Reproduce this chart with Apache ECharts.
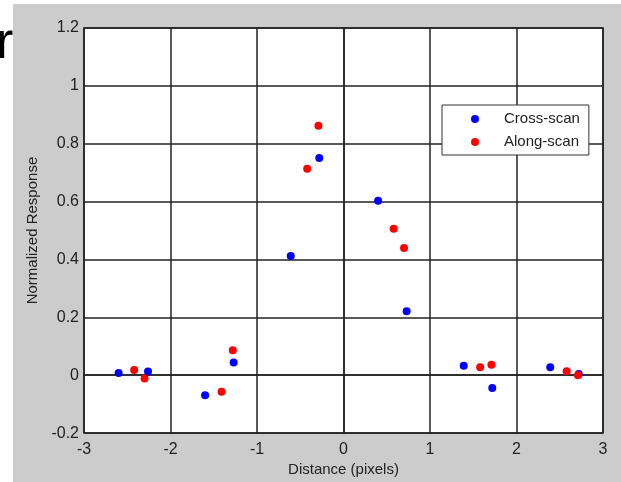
<!DOCTYPE html>
<html>
<head>
<meta charset="utf-8">
<script src="https://cdn.jsdelivr.net/npm/echarts@6/dist/echarts.min.js"></script>
<style>
    html, body { margin: 0; padding: 0; background: #fff; }
    #chart { width: 621px; height: 482px; }
</style>
</head>
<body>
<div id="chart"></div>
<script>
// values
const crossX = [-2.60, -2.26, -1.60, -1.27, -0.61, -0.28, 0.40, 0.73, 1.39, 1.72, 2.39, 2.72];
const crossY = [0.008, 0.013, -0.069, 0.044, 0.412, 0.751, 0.603, 0.221, 0.033, -0.044, 0.028, 0.004];
const alongX = [-2.42, -2.30, -1.41, -1.28, -0.42, -0.29, 0.58, 0.70, 1.58, 1.71, 2.58, 2.71];
const alongY = [0.018, -0.011, -0.057, 0.086, 0.714, 0.862, 0.506, 0.440, 0.028, 0.036, 0.014, 0.0];

const seriesNames = ["Cross-scan", "Along-scan"];
const xTitle = "Distance (pixels)";
const yTitle = "Normalized Response";

function pairs(xs, ys) {
    return xs.map((x, i) => [x, ys[i]]);
}

const chart = echarts.init(document.getElementById('chart'), null, { renderer: 'canvas' });

const font = 'Liberation Sans, Arial, sans-serif';

chart.setOption({
    animation: false,
    backgroundColor: '#ffffff',
    graphic: [
        // slide title text peeking out behind the figure
        {
            type: 'text',
            left: -4,
            top: 18,
            z: -20,
            style: { text: 'r(', font: '52px ' + font, fill: '#000' }
        },
        {
            type: 'rect',
            z: -10,
            shape: { x: 13, y: 4, width: 620, height: 480 },
            style: { fill: '#cccccc' }
        }
    ],
    grid: {
        left: 84,
        top: 28,
        width: 519,
        height: 410,
        show: true,
        backgroundColor: '#ffffff',
        borderColor: '#222',
        borderWidth: 1.5
    },
    legend: {
        data: seriesNames,
        orient: 'vertical',
        left: 442,
        top: 105,
        backgroundColor: '#ffffff',
        borderColor: '#333',
        borderWidth: 1,
        borderRadius: 0,
        padding: [6, 9, 5, 29],
        itemGap: 7,
        icon: 'circle',
        itemWidth: 8,
        itemHeight: 8,
        textStyle: {
            fontFamily: font,
            fontSize: 15,
            color: '#222',
            lineHeight: 16,
            padding: [0, 0, 0, 20]
        }
    },
    xAxis: {
        type: 'value',
        min: -3,
        max: 3,
        interval: 1,
        name: xTitle,
        nameLocation: 'middle',
        nameGap: 28,
        nameTextStyle: { fontFamily: font, fontSize: 15, color: '#222' },
        axisLine: { show: true, lineStyle: { color: '#222', width: 1.5 } },
        axisTick: { show: false },
        axisLabel: { fontFamily: font, fontSize: 16, color: '#222', margin: 8 },
        splitLine: { show: true, lineStyle: { color: '#222', width: 1.5 } }
    },
    yAxis: {
        type: 'value',
        min: -0.2,
        max: 1.2,
        interval: 0.2,
        name: yTitle,
        nameLocation: 'middle',
        nameGap: 39,
        nameTextStyle: { fontFamily: font, fontSize: 15, color: '#222' },
        axisLine: { show: true, lineStyle: { color: '#222', width: 1.5 } },
        axisTick: { show: false },
        axisLabel: {
            fontFamily: font,
            fontSize: 16,
            color: '#222',
            margin: 5,
            formatter: v => String(parseFloat(v.toFixed(1)))
        },
        splitLine: { show: true, lineStyle: { color: '#222', width: 1.5 } }
    },
    series: [
        {
            name: seriesNames[0],
            type: 'scatter',
            symbol: 'circle',
            symbolSize: 8,
            itemStyle: { color: '#0000ff', opacity: 1 },
            data: pairs(crossX, crossY)
        },
        {
            name: seriesNames[1],
            type: 'scatter',
            symbol: 'circle',
            symbolSize: 8,
            itemStyle: { color: '#ff0000', opacity: 1 },
            data: pairs(alongX, alongY)
        }
    ]
});
</script>
</body>
</html>
